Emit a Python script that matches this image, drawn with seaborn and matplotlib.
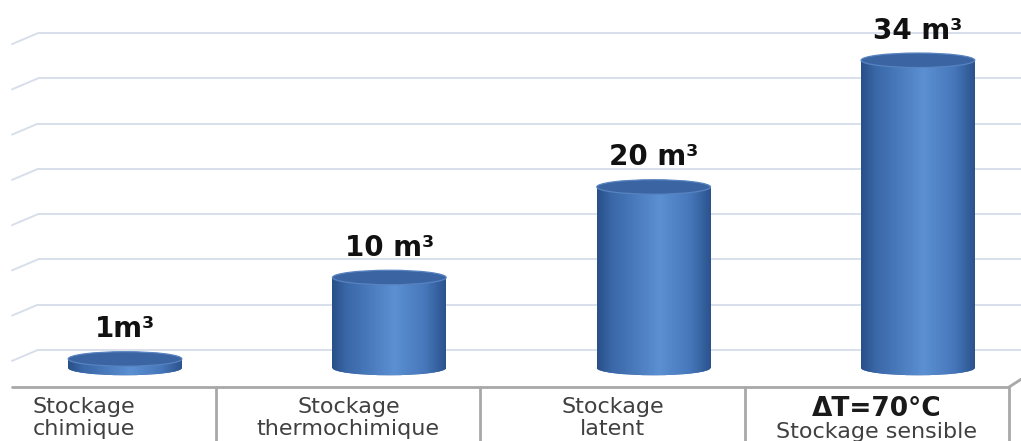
import numpy as np
import pandas as pd
import matplotlib
matplotlib.use("Agg")
import matplotlib.pyplot as plt
import matplotlib.transforms as mtransforms
from matplotlib.patches import Ellipse
from matplotlib.colors import LinearSegmentedColormap
import seaborn as sns

# ---- data ----
categories = ["Stockage chimique", "Stockage thermochimique", "Stockage latent", "Stockage sensible"]
volumes = [1, 10, 20, 34]
value_labels = ["1m³", "10 m³", "20 m³", "34 m³"]
label_line1 = ["Stockage", "Stockage", "Stockage", "ΔT=70°C"]
label_line2 = ["chimique", "thermochimique", "latent", "Stockage sensible"]
grid_values = [2, 7, 12, 17, 22, 27, 32, 37]

sns.set_style("white")
plt.rcParams['font.family'] = ['DejaVu Sans']

W, H = 1021, 441
fig = plt.figure(figsize=(W / 100, H / 100), dpi=100)
ax = fig.add_axes([38 / W, 54 / H, 983 / W, 387 / H])

df = pd.DataFrame({"cat": categories, "vol": volumes})
sns.barplot(data=df, x="cat", y="vol", width=0.43, color="#4a7cbd", ax=ax,
            saturation=1, zorder=3)

XMIN, XMAX = -0.3292, 3.390
YMIN, YMAX = -2.10, 40.66
ELL_H = 0.8 * 2  # ellipse height in data units

cmap = LinearSegmentedColormap.from_list(
    "cyl", [(0, "#284f88"), (0.12, "#3966a6"), (0.55, "#5b90d3"),
            (0.82, "#4677ba"), (1, "#2b538d")])
grad = np.linspace(0, 1, 256)[None, :]

bars = list(ax.patches)
for p, v in zip(bars, volumes):
    x0 = p.get_x()
    w = p.get_width()
    xc = x0 + w / 2
    p.set_edgecolor("none")
    # bottom ellipse
    eb = Ellipse((xc, 0), w, ELL_H, facecolor="#3566a6", edgecolor="none", zorder=3)
    ax.add_patch(eb)
    im = ax.imshow(grad, extent=(x0, x0 + w, -ELL_H, v), aspect="auto", cmap=cmap,
                   zorder=3.5, interpolation="bilinear")
    im.set_clip_path(eb)
    im2 = ax.imshow(grad, extent=(x0, x0 + w, -ELL_H, v), aspect="auto", cmap=cmap,
                    zorder=3.5, interpolation="bilinear")
    im2.set_clip_path(p)
    # top cap
    et = Ellipse((xc, v), w, ELL_H, angle=0, facecolor="#3b65a2",
                 edgecolor="#5783c0", lw=0.9, zorder=4)
    ax.add_patch(et)

for i, (v, lab) in enumerate(zip(volumes, value_labels)):
    ax.annotate(lab, (i, v), xytext=(0, 15.5), textcoords="offset points",
                ha="center", va="baseline", fontsize=20, fontweight="bold",
                color="#111111", zorder=5)

ax.set_xlim(XMIN, XMAX)
ax.set_ylim(YMIN, YMAX)
ax.set_yticks(grid_values)
ax.set_xticks([])
ax.yaxis.grid(True, color="#d8dfeb", lw=1.4)
ax.set_axisbelow(True)
ax.tick_params(length=0, labelleft=False, labelbottom=False)
ax.set_xlabel("")
ax.set_ylabel("")
for s in ax.spines.values():
    s.set_visible(False)

# slanted wall ends of the gridlines
tr = mtransforms.blended_transform_factory(ax.transAxes, ax.transData)
for g in grid_values:
    ax.plot([-26 / 983, 0], [g - 1.215, g], transform=tr, color="#d8dfeb",
            lw=1.4, clip_on=False, zorder=1)

# floor / table
xt = ax.get_xaxis_transform()
offs = 0.155
ax.plot([XMIN - 26 / 264.3, 3.5 - offs], [0, 0], transform=xt, color="#a8a8a8",
        lw=2, clip_on=False, zorder=2)
ax.plot([3.5 - offs, 3.5 - offs + 14 / 264.3], [0, 9 / 387], transform=xt,
        color="#a8a8a8", lw=2, clip_on=False, zorder=2)
for i in range(4):
    sx = i + 0.5 - offs
    ax.plot([sx, sx], [0, -0.2], transform=xt, color="#a8a8a8", lw=2,
            clip_on=False, zorder=2)

for i, (l1, l2) in enumerate(zip(label_line1, label_line2)):
    xc = i - offs
    if l1.startswith("Δ"):
        ax.text(xc, -29 / 387, l1, transform=xt, ha="center", va="baseline",
                fontsize=19, fontweight="bold", color="#1a1a1a")
        ax.text(xc, -51 / 387, l2, transform=xt, ha="center", va="baseline",
                fontsize=16, color="#404040")
    else:
        ax.text(xc, -26 / 387, l1, transform=xt, ha="center", va="baseline",
                fontsize=16, color="#404040")
        ax.text(xc, -48 / 387, l2, transform=xt, ha="center", va="baseline",
                fontsize=16, color="#404040")

fig.savefig("out.png", dpi=100, facecolor="white")
